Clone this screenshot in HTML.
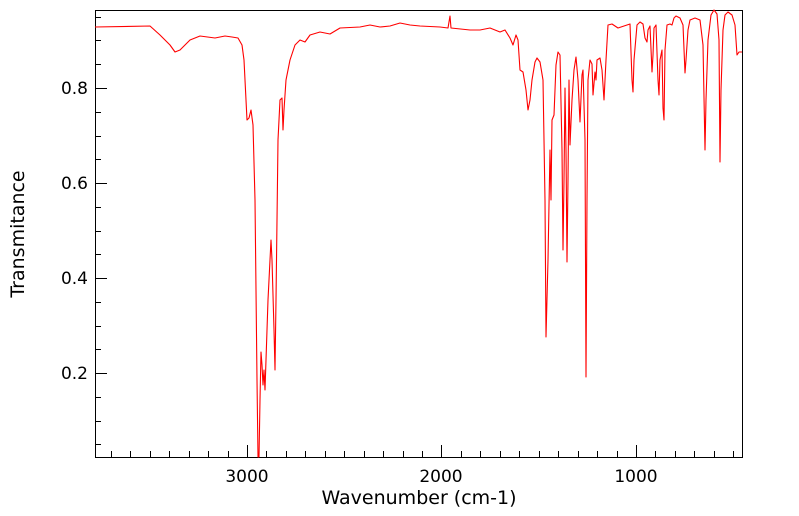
<!DOCTYPE html>
<html><head><style>body{margin:0;background:#fff}svg{display:block}</style></head>
<body>
<svg width="799" height="516" xmlns="http://www.w3.org/2000/svg" font-family="DejaVu Sans, Liberation Sans, sans-serif">
<rect x="95.5" y="10.5" width="647" height="447" fill="none" stroke="#000" stroke-width="1"/>
<g stroke="#000" stroke-width="1">
<path d="M247.5 457v-12M441.5 457v-12M636.5 457v-12"/>
</g>
<g stroke="#000" stroke-width="1" id="ticks"></g>
<g font-size="17" fill="#000" text-anchor="end">
<text x="88" y="94">0.8</text><text x="88" y="189">0.6</text><text x="88" y="284">0.4</text><text x="88" y="379">0.2</text>
</g>
<g font-size="17" fill="#000" text-anchor="middle">
<text x="247" y="482">3000</text><text x="441" y="482">2000</text><text x="636" y="482">1000</text>
</g>
<g font-size="19" fill="#000" text-anchor="middle">
<text x="419" y="504">Wavenumber (cm-1)</text>
<text transform="translate(24,234) rotate(-90)">Transmitance</text>
</g>
<polyline fill="none" stroke="#f00" stroke-width="1.1" stroke-linejoin="round" points="95,27 150,26 160,35 170,45 175,52 180,50 190,40 200,36 215,38 225,36 232,37 238,38 242,45 244,60 246,100 247,120 249,118 251,110 253,125 255,200 257,380 258,457 259,457 260,400 261,352 262,365 263,385 264,370 265,390 266,360 268,300 271,240 272,260 274,330 275,370 276,300 278,140 280,100 282,98 283,130 284,110 286,80 290,60 295,45 300,40 305,42 310,35 320,32 330,34 340,28 360,27 370,25 380,27 390,26 400,23 410,25 420,26 440,27 448,28 450,16 451,28 470,30 480,30 490,28 500,32 505,30 510,38 513,45 516,35 518,40 520,70 523,72 526,90 528,110 530,100 532,80 535,62 537,58 540,62 543,80 545,200 546,337 548,260 550,150 551,200 552,120 554,115 556,65 558,52 560,55 562,150 563,250 564,180 565,88 566,150 567,262 568,180 569,80 570,145 572,100 574,70 576,57 578,80 580,122 582,75 583,70 585,140 586,377 587,200 588,80 590,60 592,64 593,95 595,72 596,80 597,60 600,58 602,70 604,100 606,60 608,25 612,24 618,28 624,26 630,24 632,80 633,92 634,60 637,25 640,22 643,24 645,38 647,42 648,30 650,26 652,72 653,55 654,28 656,25 658,80 659,95 660,60 662,50 663,108 664,120 665,50 667,25 670,24 672,25 674,18 676,16 680,18 683,25 685,73 686,60 688,30 690,20 695,18 700,20 703,45 705,150 706,100 708,40 711,15 714,10 717,14 719,40 720,162 721,90 723,30 725,15 728,12 732,15 735,25 737,55 739,52 742,52"/>
<script>
var g=document.getElementById('ticks'),d='';
for(var v=500;v<=3700;v+=100){if(v%1000==0)continue;var x=Math.round(636+(1000-v)*0.1945)+0.5;d+='M'+x+' 457v-6';}
for(var t=0.05;t<0.97;t+=0.05){var y=Math.round(373-(t-0.2)*475)+0.5;var L=(Math.abs(t*5-Math.round(t*5))<0.01)?12:6;if(y>10&&y<457)d+='M95 '+y+'h'+L;}
var p=document.createElementNS('http://www.w3.org/2000/svg','path');p.setAttribute('d',d);g.appendChild(p);
</script>
</svg>
</body></html>
